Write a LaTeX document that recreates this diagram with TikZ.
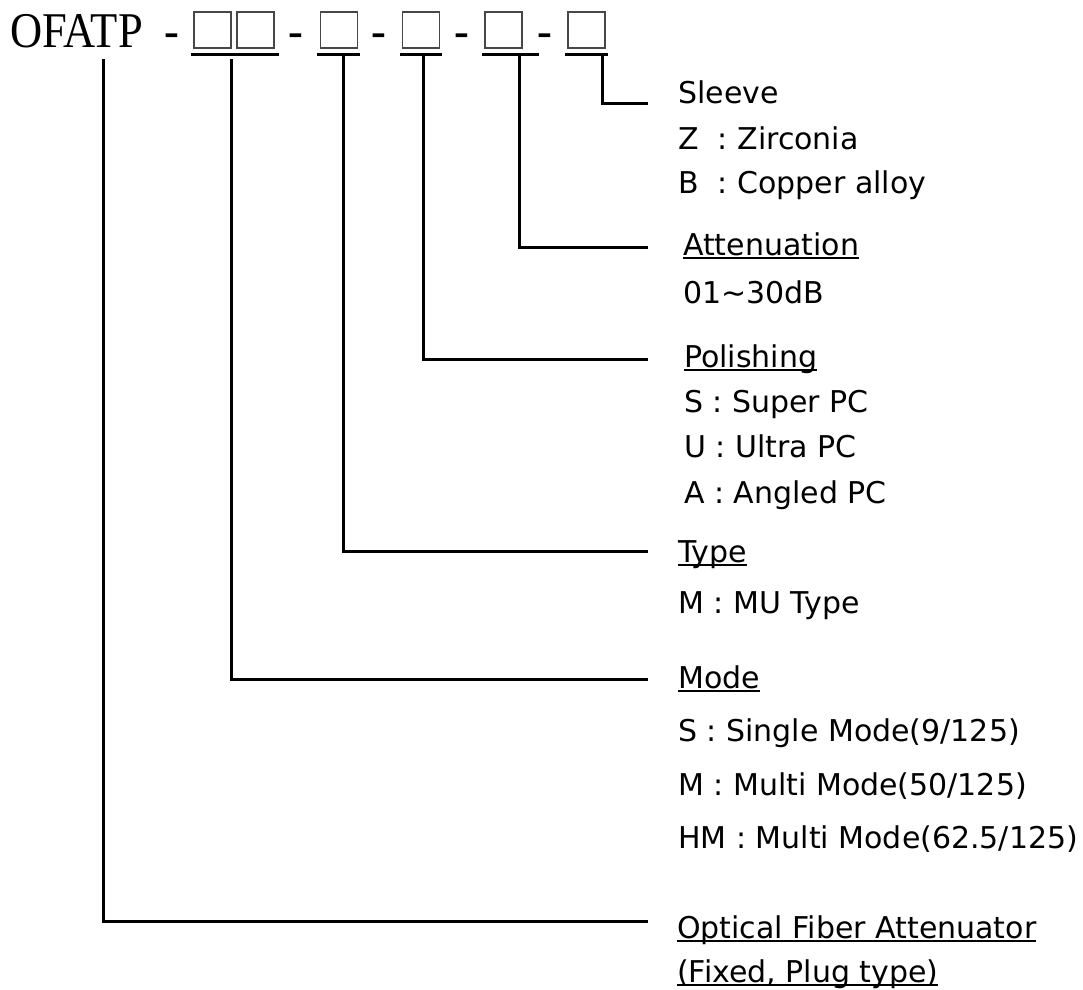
\documentclass[tikz,border=0pt]{standalone}
\usepackage{fontspec}
\setmainfont{DejaVu Sans}
\newfontfamily\codefont[FakeStretch=0.89]{Liberation Serif}
\usetikzlibrary{positioning}
\newcommand\uword[1]{\setbox0\hbox{#1}\rlap{\rule[-4pt]{\wd0}{2pt}}\box0}
\tikzset{
  slot/.style={draw=black!72, line width=1.3pt, minimum width=37pt, minimum height=36pt, inner sep=0pt},
  codetext/.style={anchor=base west, inner sep=0pt, font=\codefont\fontsize{50}{50}\selectfont},
  hyph/.style={anchor=base, inner sep=0pt, font=\codefont\fontsize{50}{50}\selectfont},
  item/.style={anchor=base west, inner sep=0pt, font=\fontsize{30}{36}\selectfont},
  bar/.style={line width=3.5pt},
  conn/.style={line width=3pt}
}
\begin{document}
\begin{tikzpicture}[x=1pt, y=-1pt]
  \useasboundingbox (0,0) rectangle (1083,989);
  % code line
  \node[codetext] (code) at (10,47) {OFATP};
  \node[hyph] (h1) at (172,47) {-};
  \node[slot] (slotMa) at (212.5,30) {};
  \node[slot] (slotMb) at (255.5,30) {};
  \node[hyph] (h2) at (296,47) {-};
  \node[slot] (slotT) at (339,30) {};
  \node[hyph] (h3) at (379,47) {-};
  \node[slot] (slotP) at (421,30) {};
  \node[hyph] (h4) at (462,47) {-};
  \node[slot] (slotA) at (503.5,30) {};
  \node[hyph] (h5) at (545,47) {-};
  \node[slot] (slotS) at (586.5,30) {};
  % underlines below the slots
  \draw[bar] ([xshift=-2pt,yshift=-6pt]slotMa.south west) -- ([xshift=4pt,yshift=-6pt]slotMb.south east);
  \draw[bar] ([xshift=-3pt,yshift=-6pt]slotT.south west) -- ([xshift=2pt,yshift=-6pt]slotT.south east);
  \draw[bar] ([xshift=-2pt,yshift=-6pt]slotP.south west) -- ([xshift=2pt,yshift=-6pt]slotP.south east);
  \draw[bar] ([xshift=-2pt,yshift=-6pt]slotA.south west) -- ([xshift=16pt,yshift=-6pt]slotA.south east);
  \draw[bar] ([xshift=-2pt,yshift=-6pt]slotS.south west) -- ([xshift=2pt,yshift=-6pt]slotS.south east);
  % labels
  \node[item] (sleeve) at (678,103) {Sleeve};
  \node[item] (zr) at (678,149) {Z\ \ : Zirconia};
  \node[item] (cu) at (678,193) {B\ \ : Copper alloy};
  \node[item] (atten) at (683,255) {\uword{Attenuation}};
  \node[item] (db) at (683,303) {01∼30dB};
  \node[item] (polish) at (684,367) {\uword{Polishing}};
  \node[item] (spc) at (684,412) {S : Super PC};
  \node[item] (upc) at (684,457) {U : Ultra PC};
  \node[item] (apc) at (684,503) {A : Angled PC};
  \node[item] (type) at (678,562) {\uword{Type}};
  \node[item] (mu) at (678,613) {M : MU Type};
  \node[item] (mode) at (678,688) {\uword{Mode}};
  \node[item] (sm) at (678,741) {S : Single Mode(9/125)};
  \node[item] (mm) at (678,795) {M : Multi Mode(50/125)};
  \node[item] (hm) at (678,848) {HM : Multi Mode(62.5/125)};
  \node[item] (fiber) at (677,938) {\uword{Optical Fiber Attenuator}};
  \node[item] (plug) at (677,982) {\uword{(Fixed, Plug type)}};
  % taps and line ends
  \coordinate (tapO) at (103,59);
  \coordinate (tapM) at (231,59);
  \coordinate (tapT) at (343,53);
  \coordinate (tapP) at (423,53);
  \coordinate (tapA) at (519,53);
  \coordinate (tapS) at (602,53);
  \coordinate (endS) at (648,103);
  \coordinate (endA) at (648,247);
  \coordinate (endP) at (648,359);
  \coordinate (endT) at (648,551);
  \coordinate (endM) at (648,679);
  \coordinate (endO) at (648,921);
  % connectors
  \draw[conn] (tapS) |- (endS);
  \draw[conn] (tapA) |- (endA);
  \draw[conn] (tapP) |- (endP);
  \draw[conn] (tapT) |- (endT);
  \draw[conn] (tapM) |- (endM);
  \draw[conn] (tapO) |- (endO);
\end{tikzpicture}
\end{document}
